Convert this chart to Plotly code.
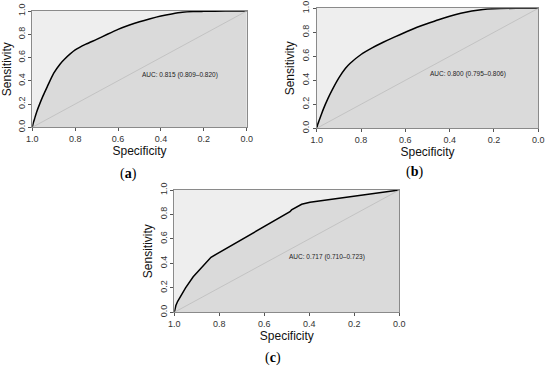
import plotly.graph_objects as go

# ROC data (specificity, sensitivity)
spec_a = [1.0, 0.995, 0.99, 0.98, 0.97, 0.95, 0.93, 0.9, 0.87, 0.85, 0.8, 0.75, 0.7, 0.65, 0.6, 0.55, 0.5, 0.45, 0.4, 0.35, 0.3, 0.25, 0.2, 0.1, 0.0]
sens_a = [0.0, 0.04, 0.07, 0.13, 0.18, 0.27, 0.35, 0.465, 0.545, 0.585, 0.665, 0.715, 0.756, 0.80, 0.842, 0.877, 0.908, 0.934, 0.957, 0.975, 0.989, 0.995, 0.997, 1.0, 1.0]

spec_b = [1.0, 0.995, 0.99, 0.98, 0.97, 0.95, 0.93, 0.9, 0.87, 0.85, 0.8, 0.75, 0.7, 0.65, 0.6, 0.55, 0.5, 0.45, 0.4, 0.35, 0.3, 0.25, 0.2, 0.1, 0.0]
sens_b = [0.0, 0.035, 0.06, 0.11, 0.16, 0.245, 0.32, 0.42, 0.50, 0.54, 0.615, 0.67, 0.717, 0.76, 0.80, 0.84, 0.873, 0.905, 0.934, 0.958, 0.978, 0.991, 0.997, 1.0, 1.0]

spec_c = [1.0, 0.997, 0.993, 0.985, 0.978, 0.95, 0.916, 0.879, 0.837, 0.486, 0.479, 0.434, 0.397, 0.0]
sens_c = [0.0, 0.03, 0.055, 0.09, 0.114, 0.20, 0.29, 0.368, 0.45, 0.823, 0.837, 0.883, 0.899, 1.0]

auc_texts = ["AUC: 0.815 (0.809\u20130.820)", "AUC: 0.800 (0.795\u20130.806)", "AUC: 0.717 (0.710\u20130.723)"]
panel_labels = ["(<b>a</b>)", "(<b>b</b>)", "(<b>c</b>)"]

diag_x = [1.0, 0.0]
diag_y = [0.0, 1.0]

tick_vals = [0.0, 0.2, 0.4, 0.6, 0.8, 1.0]
tick_text = ["0.0", "0.2", "0.4", "0.6", "0.8", "1.0"]

W, H = 550, 370
# plot areas in pixels (x0, x1, ytop, ybottom)
boxes = [(32.3, 246.7, 11.0, 127.3), (316.7, 538.3, 8.3, 128.3), (174.3, 399.3, 190.0, 312.3)]
label_pos = [(128, 174), (414.5, 171.7), (273, 358)]

FONT = "Liberation Sans, Arial, sans-serif"
LIGHT = "#eeeeee"
DARK = "#dadada"

fig = go.Figure()
series = [(spec_a, sens_a), (spec_b, sens_b), (spec_c, sens_c)]
layout = dict(width=W, height=H, margin=dict(l=0, r=0, t=0, b=0, autoexpand=False),
              paper_bgcolor="white", plot_bgcolor=LIGHT, showlegend=False)
annotations = []
shapes = []
for i, ((sx, sy), box) in enumerate(zip(series, boxes)):
    n = "" if i == 0 else str(i + 1)
    xa, ya = "x" + n, "y" + n
    x0, x1, yt, yb = box
    shapes.append(dict(type="rect", xref=xa + " domain", yref=ya + " domain",
                       x0=0, x1=1, y0=0, y1=1, fillcolor=LIGHT, line=dict(width=0), layer="below"))
    fig.add_trace(go.Scatter(x=sx, y=sy, mode="lines", xaxis=xa, yaxis=ya,
                             fill="tozeroy", fillcolor=DARK,
                             line=dict(color="black", width=1.5,
                                       shape="linear" if i == 2 else "spline",
                                       smoothing=0.6),
                             hoverinfo="skip"))
    fig.add_trace(go.Scatter(x=diag_x, y=diag_y, mode="lines", xaxis=xa, yaxis=ya,
                             line=dict(color="#bcbcbc", width=0.8), hoverinfo="skip"))
    common = dict(showgrid=False, zeroline=False, showline=True, linecolor="#8a8a8a",
                  linewidth=1, mirror=True, ticks="outside", ticklen=3, tickcolor="#555",
                  tickwidth=1, tickvals=tick_vals, ticktext=tick_text, automargin=False,
                  ticklabeloverflow="allow",
                  tickfont=dict(family=FONT, size=9, color="#333"))
    layout["xaxis" + n] = dict(common, domain=[x0 / W, x1 / W], range=[1.0, 0.0],
                               anchor=ya,
                               title=dict(text="Specificity", standoff=2,
                                          font=dict(family=FONT, size=12, color="#111")))
    layout["yaxis" + n] = dict(common, domain=[1 - yb / H, 1 - yt / H], range=[0.0, 1.0],
                               anchor=xa, tickangle=-90,
                               title=dict(text="Sensitivity", standoff=3,
                                          font=dict(family=FONT, size=12, color="#111")))
    annotations.append(dict(x=0.5, y=0.505, xref=xa, yref=ya, text=auc_texts[i],
                            showarrow=False, xanchor="left", yanchor="top",
                            font=dict(family=FONT, size=6.5, color="#222")))
    lx, ly = label_pos[i]
    annotations.append(dict(x=lx / W, y=1 - ly / H, xref="paper", yref="paper",
                            text=panel_labels[i], showarrow=False,
                            xanchor="center", yanchor="middle",
                            font=dict(family="Liberation Serif, Times New Roman, serif",
                                      size=14, color="black")))

layout["annotations"] = annotations
layout["shapes"] = shapes
fig.update_layout(**layout)
fig.write_html("out.html",
               config={"displayModeBar": False, "staticPlot": True},
               post_script="document.body.style.margin='0';document.body.style.padding='0';")
